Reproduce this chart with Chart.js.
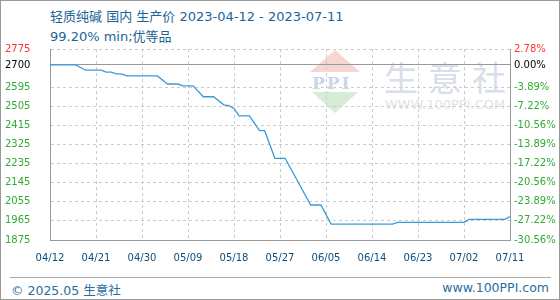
<!DOCTYPE html>
<html>
<head>
<meta charset="utf-8">
<script src="https://cdn.jsdelivr.net/npm/chart.js@4.4.1/dist/chart.umd.min.js"></script>
<style>
  body { margin: 0; background: #fff; }
  #wrap { position: relative; width: 560px; height: 300px; overflow: hidden; background: #fff; }
  #frame { position: absolute; left: 0; top: 0; width: 560px; height: 300px; box-sizing: border-box; border: 1px solid #999; z-index: 5; pointer-events: none; }
  .title { position: absolute; left: 50px; font: 13px "DejaVu Sans", "Noto Sans CJK SC", sans-serif; color: #1d6496; white-space: nowrap; }
  #chart { position: absolute; left: 0; top: 0; z-index: 2; }
  .wm { position: absolute; z-index: 1; white-space: nowrap; }
  #foot-line { position: absolute; left: 10px; top: 277px; width: 541px; border-top: 1px solid #aaa; }
  .foot { position: absolute; top: 280px; font: 12.5px "DejaVu Sans", "Noto Sans CJK SC", sans-serif; color: #2a6d9c; white-space: nowrap; }
</style>
</head>
<body>
<div id="wrap">
  <div class="title" style="top:6px">轻质纯碱 国内 生产价 2023-04-12 - 2023-07-11</div>
  <div class="title" style="top:26px">99.20% min;优等品</div>

  <div class="wm" style="left:310px;top:50px;width:0;height:0;border-left:25px solid transparent;border-right:25px solid transparent;border-bottom:22px solid #f7d6d2;"></div>
  <div class="wm" style="left:312px;top:73px;font:bold 17px 'DejaVu Serif', serif;color:#cdd6e8;letter-spacing:2px;">PPI</div>
  <div class="wm" style="left:312px;top:92px;width:0;height:0;border-left:23px solid transparent;border-right:23px solid transparent;border-top:21px solid #d6ecd8;"></div>
  <div class="wm" style="left:384px;top:52px;font:34px 'Noto Sans CJK SC', sans-serif;color:#d8deea;letter-spacing:10px;">生意社</div>
  <div class="wm" style="left:385px;top:97px;font:13px 'DejaVu Sans', sans-serif;color:#e2e2e2;">WWW.100PPI.COM</div>

  <canvas id="chart" width="560" height="300"></canvas>

  <div id="foot-line"></div>
  <div class="foot" style="left:11px">© 2025.05 生意社</div>
  <div class="foot" style="right:11px">www.100PPI.com</div>
  <div id="frame"></div>
</div>
<script>
const xLabels = ["04/12", "04/21", "04/30", "05/09", "05/18", "05/27", "06/05", "06/14", "06/23", "07/02", "07/11"];
const leftTicks = [1875, 1965, 2055, 2145, 2235, 2325, 2415, 2505, 2595, 2700, 2775];
const rightLabels = ["-30.56%", "-27.22%", "-23.89%", "-20.56%", "-17.22%", "-13.89%", "-10.56%", "-7.22%", "-3.89%", "0.00%", "2.78%"];

// day offset from 04/12 and price on that day
const days = [0, 5, 7, 10, 11, 12, 13, 14, 15, 21, 23, 25, 26, 28, 30, 32, 34, 35, 36, 37, 39, 41, 42, 44, 46, 51, 53, 55, 67, 68, 81, 82, 89, 90];
const prices = [2700, 2700, 2675, 2675, 2666, 2666, 2658, 2658, 2648, 2648, 2610, 2610, 2601, 2601, 2550, 2550, 2512, 2508, 2495, 2460, 2460, 2390, 2390, 2260, 2260, 2040, 2040, 1950, 1950, 1958, 1958, 1972, 1972, 1986];

const basePrice = 2700;
const tickFont = { family: "DejaVu Sans", size: 10 };

const tickColor = (ctx) => {
  const v = ctx.tick ? ctx.tick.value : null;
  if (v === leftTicks[leftTicks.length - 1]) return "#ff3333";
  if (v === basePrice) return "#000000";
  return "#33aa33";
};

const setTicks = (scale) => {
  scale.ticks = leftTicks.map((v) => ({ value: v }));
};

new Chart(document.getElementById("chart"), {
  type: "line",
  data: {
    datasets: [
      {
        data: days.map((d, i) => ({ x: d, y: prices[i] })),
        borderColor: "#3a9ad9",
        borderWidth: 1.3,
        pointRadius: 0,
        tension: 0,
        fill: false,
      },
    ],
  },
  options: {
    responsive: false,
    animation: false,
    layout: { padding: { top: 49, left: 5, right: 0, bottom: 30 } },
    plugins: { legend: { display: false }, tooltip: { enabled: false } },
    scales: {
      x: {
        type: "linear",
        min: 0,
        max: 90,
        afterBuildTicks: (scale) => {
          scale.ticks = xLabels.map((l, i) => ({ value: i * 9 }));
        },
        afterFit: (scale) => {
          scale.height = 30;
        },
        ticks: {
          callback: (v, i) => xLabels[i],
          color: "#0d4d7d",
          font: tickFont,
          padding: 12,
          maxRotation: 0,
          autoSkip: false,
        },
        grid: { color: "#cccccc", drawTicks: false },
        border: { color: "#999999", dash: [3, 3] },
      },
      y: {
        position: "left",
        min: 1875,
        max: 2775,
        afterBuildTicks: setTicks,
        afterFit: (scale) => {
          scale.width = 45;
        },
        ticks: {
          callback: (v) => String(v),
          color: tickColor,
          font: tickFont,
          crossAlign: "far",
          autoSkip: false,
        },
        grid: {
          drawTicks: false,
          color: (ctx) => (ctx.tick && ctx.tick.value === basePrice ? "#999999" : "#cccccc"),
        },
        border: {
          color: "#999999",
          dash: (ctx) => (ctx.tick && ctx.tick.value === basePrice ? [] : [3, 3]),
        },
      },
      y2: {
        position: "right",
        min: 1875,
        max: 2775,
        afterBuildTicks: setTicks,
        afterFit: (scale) => {
          scale.width = 50;
        },
        ticks: {
          callback: (v, i) => rightLabels[i],
          color: tickColor,
          font: tickFont,
          padding: 4,
          autoSkip: false,
        },
        grid: { display: false, drawTicks: false },
        border: { color: "#999999" },
      },
    },
  },
});
</script>
</body>
</html>
